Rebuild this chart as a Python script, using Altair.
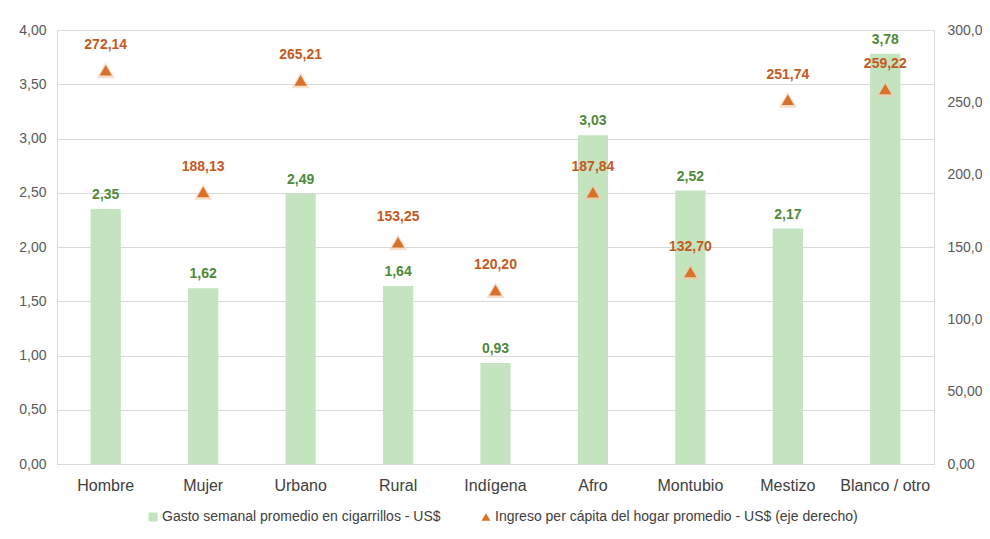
import altair as alt
import pandas as pd

categorias = ["Hombre", "Mujer", "Urbano", "Rural", "Indígena", "Afro", "Montubio", "Mestizo", "Blanco / otro"]
gasto = [2.35, 1.62, 2.49, 1.64, 0.93, 3.03, 2.52, 2.17, 3.78]
ingreso = [272.14, 188.13, 265.21, 153.25, 120.20, 187.84, 132.70, 251.74, 259.22]
serie_gasto = "Gasto semanal promedio en cigarrillos - US$"
serie_ingreso = "Ingreso per cápita del hogar promedio - US$ (eje derecho)"
ticks_izq = [0, 0.5, 1, 1.5, 2, 2.5, 3, 3.5, 4]
ticks_der = [0, 50, 100, 150, 200, 250, 300]

df = pd.DataFrame({"cat": categorias, "gasto": gasto, "ingreso": ingreso})
leg = pd.DataFrame({"serie": [serie_gasto, serie_ingreso]})

FONT = "Liberation Sans"
GREEN = "#c4e3bf"
GREEN_TXT = "#4e8a3a"
ORANGE = "#d9712b"
ORANGE_TXT = "#c55a1e"

x = alt.X("cat:N", sort=categorias, title=None,
          scale=alt.Scale(paddingInner=0.69, paddingOuter=0.345),
          axis=alt.Axis(labelAngle=0, ticks=False, labelFontSize=16, labelColor="#404040",
                        labelPadding=13, domainColor="#d9d9d9", labelFont=FONT))

base = alt.Chart(df).transform_calculate(
    g_lbl="replace(format(datum.gasto, '.2f'), '.', ',')",
    i_lbl="replace(format(datum.ingreso, '.2f'), '.', ',')",
)

y_left = alt.Y("gasto:Q", title=None,
               scale=alt.Scale(domain=[0, 4], nice=False),
               axis=alt.Axis(values=ticks_izq, labelExpr="replace(format(datum.value, '.2f'), '.', ',')",
                             ticks=False, domain=False, gridColor="#d9d9d9", labelPadding=11,
                             labelFontSize=14, labelColor="#595959", labelFont=FONT))
y_right = alt.Y("ingreso:Q", title=None,
                scale=alt.Scale(domain=[0, 300], nice=False),
                axis=alt.Axis(orient="right", values=ticks_der,
                              labelExpr="replace(format(datum.value, '.2f'), '.', ',')",
                              ticks=False, domain=False, grid=False, labelPadding=13,
                              labelFontSize=14, labelColor="#595959", labelFont=FONT))

bars = base.mark_bar(color=GREEN).encode(x=x, y=y_left)
bar_txt = base.mark_text(dy=-14, fontWeight="bold", fontSize=14, color=GREEN_TXT, font=FONT).encode(
    x=x, y=y_left, text="g_lbl:N")
left = alt.layer(bars, bar_txt)

glow = base.mark_point(shape="triangle-up", filled=True, size=330, color="#f3c9a8", opacity=0.6).encode(
    x=x, y=y_right)
tri = base.mark_point(shape="triangle-up", filled=True, size=150, color=ORANGE, opacity=1).encode(
    x=x, y=y_right)
tri_txt = base.mark_text(dy=-25, fontWeight="bold", fontSize=14, color=ORANGE_TXT, font=FONT).encode(
    x=x, y=y_right, text="i_lbl:N")
right = alt.layer(glow, tri, tri_txt)

legend_layer = alt.Chart(leg).mark_point(filled=True, opacity=0).encode(
    color=alt.Color("serie:N", sort=[serie_gasto, serie_ingreso],
                    scale=alt.Scale(domain=[serie_gasto, serie_ingreso], range=[GREEN, ORANGE]),
                    legend=alt.Legend(title=None, orient="none", direction="horizontal",
                                      legendX=89, legendY=480, columnPadding=38,
                                      symbolOpacity=1, symbolSize=80, labelFontSize=14,
                                      labelOffset=2, labelColor="#404040", labelFont=FONT,
                                      labelLimit=600, symbolStrokeWidth=0)),
    shape=alt.Shape("serie:N", sort=[serie_gasto, serie_ingreso],
                    scale=alt.Scale(domain=[serie_gasto, serie_ingreso], range=["square", "triangle-up"]),
                    legend=None),
)

chart = alt.layer(left, right, legend_layer).resolve_scale(y="independent").properties(
    width=877, height=434,
    autosize=alt.AutoSizeParams(type="none"),
    padding={"left": 49, "top": 22, "right": 48, "bottom": 62},
).configure_view(stroke=None).configure(background="white")

chart.save("out.html", embed_options={"renderer": "svg", "actions": False})
